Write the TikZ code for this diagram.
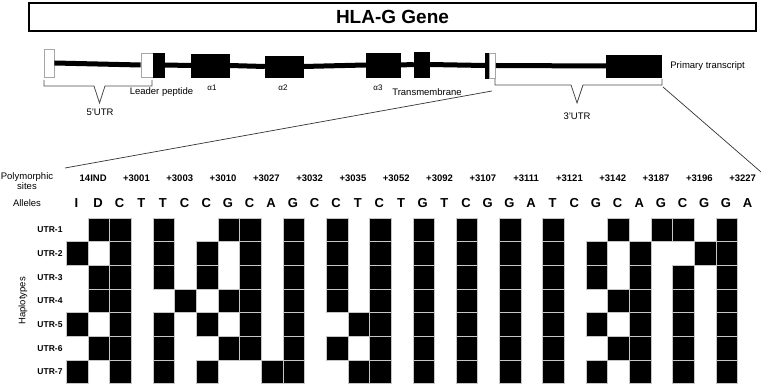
\documentclass[tikz,border=0pt]{standalone}
\usepackage{fontspec}
\setmainfont{Liberation Sans}
\usetikzlibrary{positioning}

\begin{document}
\begin{tikzpicture}[
  x=1pt,y=-1pt,
  exon/.style={draw,fill=black,inner sep=0pt},
  utr/.style={draw=gray!70,fill=white,inner sep=0pt,line width=0.8pt},
  intron/.style={line width=5pt},
  brace/.style={draw=gray!60!black,line width=0.8pt},
  zoom/.style={draw=black!80,line width=0.7pt},
  lbl/.style={inner sep=1pt,font=\fontsize{9.5}{10.5}\selectfont},
  greek/.style={inner sep=1pt,font=\fontsize{8}{9}\selectfont},
  site/.style={inner sep=0pt,font=\bfseries\fontsize{9.5}{11}\selectfont},
  allele/.style={inner sep=0pt,font=\bfseries\fontsize{13}{14}\selectfont},
  hap/.style={inner sep=0pt,font=\bfseries\fontsize{8.5}{10}\selectfont},
  cell/.style={draw=gray!45,fill=black,line width=0.8pt,minimum width=21.65pt,
               minimum height=23.7pt,inner sep=0pt}
]
\useasboundingbox (0,0) rectangle (761,387);

\node[draw,line width=1.8pt,minimum width=727pt,minimum height=28pt,
      font=\bfseries\fontsize{19}{22}\selectfont] (title) at (392.5,17) {HLA-G Gene};

\node[utr,minimum width=10pt,minimum height=28pt] (u5) at (49,63) {};
\node[utr,minimum width=12pt,minimum height=24pt] (lpw) at (147,65) {};
\node[exon,minimum width=11pt,minimum height=24pt] (lpb) at (158.5,65) {};
\node[exon,minimum width=38pt,minimum height=23pt] (a1) at (210,65.5) {};
\node[exon,minimum width=38pt,minimum height=21pt] (a2) at (284,66.5) {};
\node[exon,minimum width=34pt,minimum height=24pt] (a3) at (383,65) {};
\node[exon,minimum width=15pt,minimum height=25pt] (tm) at (421.5,64.5) {};
\node[exon,minimum width=4pt,minimum height=25pt] (e6) at (487,65.5) {};
\node[utr,minimum width=6pt,minimum height=25pt] (u3w) at (492.5,65.5) {};
\node[exon,minimum width=55pt,minimum height=22pt] (u3b) at (633.5,66) {};

\draw[intron] (u5.east) -- (lpw.west);
\draw[intron] (lpb.east) -- (a1.west);
\draw[intron] (a1.east) -- (a2.west);
\draw[intron] (a2.east) -- (a3.west);
\draw[intron] (a3.east) -- (tm.west);
\draw[intron] (tm.east) -- (e6.west);
\draw[intron] (u3w.east) -- (u3b.west);

\node[lbl,right=8pt of u3b] (prim) {Primary transcript};
\node[lbl] (lead) at (161.5,92) {Leader peptide};
\node[greek] (ga1) at (212,88) {α1};
\node[greek] (ga2) at (283,88) {α2};
\node[greek] (ga3) at (378,88) {α3};
\node[lbl] (trans) at (427,92) {Transmembrane};

\draw[brace] (44,80) -- (44,86) -- (94,86) -- (99.5,103) -- (105,86) -- (152,86) -- (152,80);
\node[lbl] (utr5) at (100,112) {5'UTR};
\draw[brace] (495,79) -- (495,85) -- (571,85) -- (577,103) -- (583,85) -- (662,85) -- (662,79);
\node[lbl] (utr3) at (577,116) {3'UTR};

\coordinate (b3l) at (492,91);
\coordinate (b3r) at (663,87);
\coordinate (zl) at (65,168);
\coordinate (zr) at (761,172);
\draw[zoom] (b3l) -- (zl);
\draw[zoom] (b3r) -- (zr);

\node[lbl,align=center] (poly) at (27,181) {Polymorphic\\sites};
\node[lbl] (alle) at (27,203) {Alleles};
\node[lbl,rotate=90] (haps) at (23,301) {Haplotypes};

\foreach \s [count=\k] in {14IND,+3001,+3003,+3010,+3027,+3032,+3035,+3052,
                           +3092,+3107,+3111,+3121,+3142,+3187,+3196,+3227}
  \node[site] (s\k) at ({66.5+(2*\k-1)*21.65+5},178) {\s};

\foreach \a [count=\i] in {I,D,C,T,T,C,C,G,C,A,G,C,C,T,C,T,
                           G,T,C,G,G,A,T,C,G,C,A,G,C,G,G,A}
  \node[allele] (al\i) at ({66.5+(\i-0.5)*21.65-1},203) {\a};

\foreach \r in {1,...,7}
  \node[hap] (h\r) at (50,{218+(\r-0.5)*23.7}) {UTR-\r};

\foreach \r/\cols in {1/{2,3,5,8,9,11,13,15,17,19,21,23,26,28,29,31},
                      2/{1,3,5,7,9,11,13,15,17,19,21,23,25,27,30,31},
                      3/{2,3,5,7,9,11,13,15,17,19,21,23,25,27,29,31},
                      4/{2,3,6,8,9,11,13,15,17,19,21,23,26,27,29,31},
                      5/{1,3,5,7,9,11,14,15,17,19,21,23,25,27,29,31},
                      6/{2,3,5,8,9,11,13,15,17,19,21,23,26,27,29,31},
                      7/{1,3,5,7,10,11,14,15,17,19,21,23,25,27,29,31}}
  \foreach \c in \cols
    \node[cell] (c\r-\c) at ({66.5+(\c-0.5)*21.65},{218+(\r-0.5)*23.7}) {};
\end{tikzpicture}
\end{document}
